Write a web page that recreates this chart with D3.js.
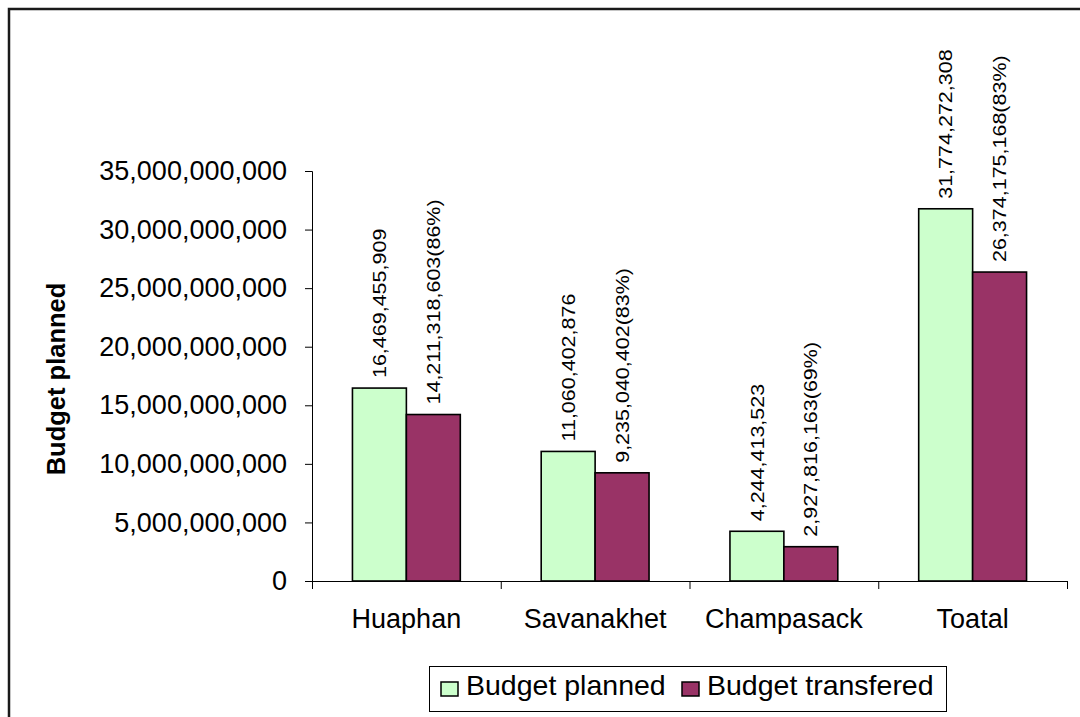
<!DOCTYPE html>
<html>
<head>
<meta charset="utf-8">
<script src="https://cdn.jsdelivr.net/npm/d3@7"></script>
<style>
  body { margin: 0; background: #fff; }
  text { font-family: "Liberation Sans", Arial, sans-serif; fill: #000; }
</style>
</head>
<body>
<div class="chart"></div>
<script>
var svgWidth = 1080;
var svgHeight = 717;

// chart data
var regions = ["Huaphan", "Savanakhet", "Champasack", "Toatal"];
var budgetPlanned = [16469455909, 11060402876, 4244413523, 31774272308];
var budgetTransfered = [14211318603, 9235040402, 2927816163, 26374175168];
var transferedPct = ["86%", "83%", "69%", "83%"];
var yTicks = [0, 5e9, 10e9, 15e9, 20e9, 25e9, 30e9, 35e9];
var seriesNames = ["Budget planned", "Budget transfered"];
var seriesColors = ["#ccffcc", "#993366"];

var plot = { left: 312, right: 1067, top: 171, bottom: 581 };

var svg = d3.select(".chart")
  .append("svg")
  .attr("width", svgWidth)
  .attr("height", svgHeight);

// outer chart-area border (runs off the right and bottom edges)
svg.append("rect")
  .attr("x", 9)
  .attr("y", 9)
  .attr("width", 1200)
  .attr("height", 900)
  .attr("fill", "none")
  .attr("stroke", "#1a1a1a")
  .attr("stroke-width", 2.5);

var xScale = d3.scaleBand()
  .domain(regions)
  .range([plot.left, plot.right]);

var barW = xScale.bandwidth() / 3.5;
var xInner = d3.scaleBand()
  .domain([0, 1])
  .range([0, barW * 2]);

var yScale = d3.scaleLinear()
  .domain([0, 35e9])
  .range([plot.bottom, plot.top]);

// y axis
var yAxis = svg.append("g")
  .attr("transform", `translate(${plot.left}, 0)`)
  .call(d3.axisLeft(yScale)
    .tickValues(yTicks)
    .tickFormat(d3.format(","))
    .tickSize(7)
    .tickPadding(18));
yAxis.select(".domain").attr("stroke", "#000");
yAxis.selectAll(".tick line").attr("stroke", "#000");
yAxis.selectAll(".tick text")
  .attr("font-size", 27)
  .attr("font-family", "'Liberation Sans', Arial, sans-serif")
  .attr("fill", "#000");

// x axis line + category boundary ticks
svg.append("line")
  .attr("x1", plot.left)
  .attr("x2", plot.right)
  .attr("y1", plot.bottom + 0.5)
  .attr("y2", plot.bottom + 0.5)
  .attr("stroke", "#000");

var bounds = regions.map(d => xScale(d)).concat([plot.right]);
svg.selectAll(".xtick")
  .data(bounds)
  .enter()
  .append("line")
  .attr("x1", d => d + 0.5)
  .attr("x2", d => d + 0.5)
  .attr("y1", plot.bottom)
  .attr("y2", plot.bottom + 8)
  .attr("stroke", "#000");

svg.selectAll(".xlabel")
  .data(regions)
  .enter()
  .append("text")
  .attr("x", d => xScale(d) + xScale.bandwidth() / 2)
  .attr("y", 628)
  .attr("text-anchor", "middle")
  .attr("font-size", 27)
  .text(d => d);

// y axis title
svg.append("text")
  .attr("transform", "translate(65, 379) rotate(-90)")
  .attr("text-anchor", "middle")
  .attr("font-size", 25.5)
  .attr("font-weight", "bold")
  .text("Budget planned");

// bars
var rows = regions.map(function(r, i) {
  return {
    region: r,
    values: [
      { s: 0, v: budgetPlanned[i], label: d3.format(",")(budgetPlanned[i]) },
      { s: 1, v: budgetTransfered[i], label: d3.format(",")(budgetTransfered[i]) + "(" + transferedPct[i] + ")" }
    ]
  };
});

var groups = svg.selectAll(".grp")
  .data(rows)
  .enter()
  .append("g")
  .attr("transform", d => `translate(${xScale(d.region) + (xScale.bandwidth() - barW * 2) / 2}, 0)`);

groups.selectAll("rect")
  .data(d => d.values)
  .enter()
  .append("rect")
  .attr("x", d => xInner(d.s))
  .attr("y", d => yScale(d.v))
  .attr("width", xInner.bandwidth())
  .attr("height", d => plot.bottom - yScale(d.v))
  .attr("fill", d => seriesColors[d.s])
  .attr("stroke", "#000")
  .attr("stroke-width", 1.6);

// rotated value labels
groups.selectAll(".val")
  .data(d => d.values)
  .enter()
  .append("text")
  .attr("transform", d => `translate(${xInner(d.s) + xInner.bandwidth() / 2}, ${yScale(d.v) - 10}) rotate(-90) scale(1, 0.86)`)
  .attr("dy", "0.36em")
  .attr("font-size", 21.5)
  .text(d => d.label);

// legend
var legend = svg.append("g");
legend.append("rect")
  .attr("x", 429.5)
  .attr("y", 666.5)
  .attr("width", 517)
  .attr("height", 45)
  .attr("fill", "#fff")
  .attr("stroke", "#000");

var legendX = [441, 682];
seriesNames.forEach(function(name, i) {
  legend.append("rect")
    .attr("x", legendX[i])
    .attr("y", 682)
    .attr("width", 17)
    .attr("height", 14)
    .attr("fill", seriesColors[i])
    .attr("stroke", "#000")
    .attr("stroke-width", 1.5);
  legend.append("text")
    .attr("x", legendX[i] + 25)
    .attr("y", 695)
    .attr("font-size", 28.5)
    .text(name);
});
</script>
</body>
</html>
